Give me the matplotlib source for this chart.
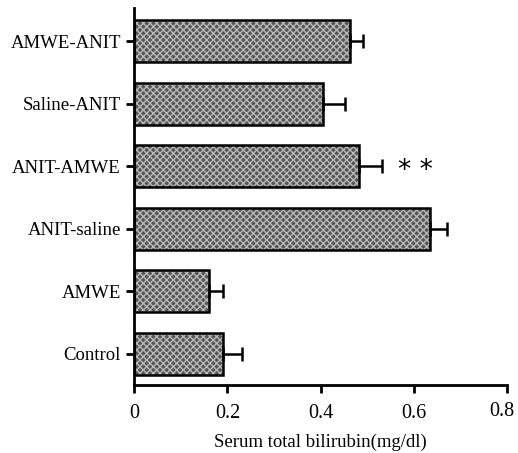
import numpy as np
import matplotlib
matplotlib.use('Agg')
import matplotlib.pyplot as plt

# ── Data (bottom to top) ─────────────────────────────────────
groups = ['Control', 'AMWE', 'ANIT-saline', 'ANIT-AMWE', 'Saline-ANIT', 'AMWE-ANIT']
means = [0.19, 0.16, 0.635, 0.483, 0.404, 0.463]
sems = [0.042, 0.030, 0.037, 0.049, 0.049, 0.028]
xticks = [0, 0.2, 0.4, 0.6, 0.8]
xtick_labels = ['0', '0.2', '0.4', '0.6', '0.8']

plt.rcParams.update({
    'font.family': 'Liberation Serif',
    'font.size': 13,
})

fig = plt.figure(figsize=(5.18, 4.53), dpi=100)
ax = fig.add_axes([0.259, 0.150, 0.720, 0.832])

y = np.arange(len(groups))
# textured fill, then black outline on top
ax.barh(y, means, height=0.67, color='#555555', edgecolor='#b8b8b8',
        hatch='xxxxx', linewidth=0, zorder=2)
ax.barh(y, means, height=0.67, fill=False, edgecolor='black',
        linewidth=1.8, zorder=3)
ax.errorbar(means, y, xerr=[np.zeros(len(sems)), sems], fmt='none',
            ecolor='black', elinewidth=1.8, capsize=5, capthick=1.8, zorder=4)

# significance marker
ax.text(means[3] + sems[3] + 0.035, y[3] - 0.08, '* *', fontsize=19,
        va='center', ha='left', family='DejaVu Sans')

ax.set_xlim(0, 0.8)
ax.set_ylim(-0.5, 5.53)
ax.set_yticks(y)
ax.set_yticklabels(groups, fontsize=13.5)
ax.set_xticks(xticks)
# last label drawn separately, nudged left/up so it stays inside the figure
ax.set_xticklabels(xtick_labels[:-1] + [''], fontsize=14.5)
ax.annotate(xtick_labels[-1], xy=(xticks[-1], 0), xycoords=('data', 'axes fraction'),
            xytext=(-4, -12), textcoords='offset points',
            ha='center', va='top', fontsize=14.5)
ax.set_xlabel('Serum total bilirubin(mg/dl)', fontsize=13.5, labelpad=7)

for s in ['top', 'right']:
    ax.spines[s].set_visible(False)
for s in ['left', 'bottom']:
    ax.spines[s].set_linewidth(2)
ax.tick_params(axis='both', width=2, length=6, direction='out')
ax.tick_params(axis='x', pad=8)

fig.savefig('out.png', dpi=100, facecolor='white')
